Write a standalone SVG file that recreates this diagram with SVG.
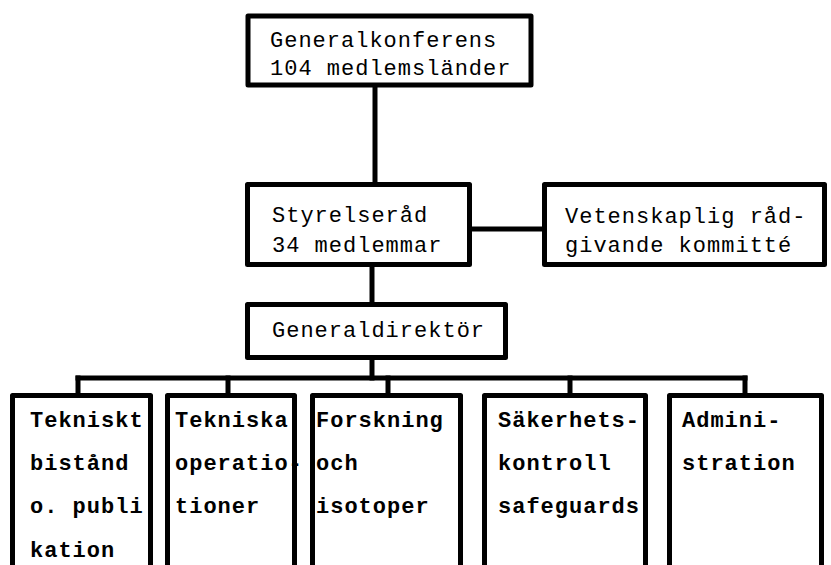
<svg xmlns="http://www.w3.org/2000/svg" width="831" height="565" viewBox="0 0 831 565">
<style>
.box{fill:#fff;stroke:#000;stroke-width:5;stroke-linejoin:round}
.ln{fill:none;stroke:#000;stroke-width:5;stroke-linecap:square}
text{font-family:"Liberation Mono","DejaVu Sans Mono",monospace;font-size:22px;letter-spacing:1px;fill:#000}
.b{font-weight:bold}
</style>
<rect width="831" height="565" fill="#fff"/>
<g id="connectors">
<path class="ln" d="M375 87V182"/>
<path class="ln" d="M472 229H542"/>
<path class="ln" d="M372 267V302"/>
<path class="ln" d="M372 360V378"/>
<path class="ln" d="M78 378H745"/>
<path class="ln" d="M78 378V393M228 378V393M388 378V393M570 378V393M745 378V393"/>
</g>
<g id="generalkonferens">
<rect class="box" x="248" y="16" width="283" height="69"/>
<text x="270" y="47">Generalkonferens</text>
<text x="270" y="75">104 medlemsländer</text>
</g>
<g id="styrelserad">
<rect class="box" x="247.5" y="184.5" width="222" height="80"/>
<text x="272" y="222">Styrelseråd</text>
<text x="272" y="252">34 medlemmar</text>
</g>
<g id="vetenskaplig">
<rect class="box" x="544.5" y="184.5" width="280" height="80"/>
<text x="565" y="223">Vetenskaplig råd-</text>
<text x="565" y="252">givande kommitté</text>
</g>
<g id="generaldirektor">
<rect class="box" x="247.5" y="304.5" width="258" height="53"/>
<text x="272" y="337">Generaldirektör</text>
</g>
<g id="tekniskt">
<rect class="box" x="12.5" y="395.5" width="138" height="200"/>
<text class="b" x="30" y="427">Tekniskt</text>
<text class="b" x="30" y="470">bistånd</text>
<text class="b" x="30" y="513">o. publi</text>
<text class="b" x="30" y="557">kation</text>
</g>
<g id="tekniska">
<rect class="box" x="167.5" y="395.5" width="127" height="200"/>
<text class="b" x="175" y="427">Tekniska</text>
<text class="b" x="175" y="470">operatio-</text>
<text class="b" x="175" y="513">tioner</text>
</g>
<g id="forskning">
<rect class="box" x="312.5" y="395.5" width="148" height="200"/>
<text class="b" x="316" y="427">Forskning</text>
<text class="b" x="316" y="470">och</text>
<text class="b" x="316" y="513">isotoper</text>
</g>
<g id="sakerhet">
<rect class="box" x="484.5" y="395.5" width="161" height="200"/>
<text class="b" x="498" y="427">Säkerhets-</text>
<text class="b" x="498" y="470">kontroll</text>
<text class="b" x="498" y="513">safeguards</text>
</g>
<g id="administration">
<rect class="box" x="669.5" y="395.5" width="152" height="200"/>
<text class="b" x="682" y="427">Admini-</text>
<text class="b" x="682" y="470">stration</text>
</g>
</svg>
